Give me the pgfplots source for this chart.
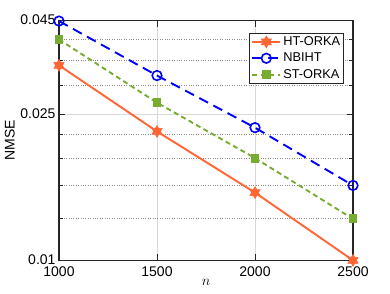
\documentclass[border=0pt]{standalone}
\usepackage{pgfplots}
\pgfplotsset{compat=1.18}
\usepackage{fontspec}
\setmainfont{Liberation Sans}
\definecolor{htorange}{rgb}{1,0.4,0.2}
\definecolor{nbblue}{rgb}{0,0,1}
\definecolor{stgreen}{rgb}{0.466,0.674,0.188}
\pgfdeclareplotmark{hexagram}{%
 \pgfpathmoveto{\pgfqpointpolar{90}{\pgfplotmarksize}}%
 \pgfpathlineto{\pgfqpointpolar{210}{\pgfplotmarksize}}%
 \pgfpathlineto{\pgfqpointpolar{330}{\pgfplotmarksize}}%
 \pgfpathclose
 \pgfpathmoveto{\pgfqpointpolar{270}{\pgfplotmarksize}}%
 \pgfpathlineto{\pgfqpointpolar{30}{\pgfplotmarksize}}%
 \pgfpathlineto{\pgfqpointpolar{150}{\pgfplotmarksize}}%
 \pgfpathclose
 \pgfusepathqfillstroke}
\begin{document}
\begin{tikzpicture}[font=\fontsize{14}{16}\selectfont]
\useasboundingbox (0,0) rectangle (390pt,293pt);
\begin{axis}[
 at={(59pt,32.7pt)}, anchor=south west,
 scale only axis, width=294pt, height=239.6pt,
 ymode=log, xmin=1000, xmax=2500, ymin=0.01, ymax=0.045,
 xtick={1000,1500,2000,2500}, xticklabels={1000,1500,2000,2500},
 ytick={0.01,0.025,0.045}, yticklabels={0.01,0.025,0.045},
 minor ytick={0.013,0.016,0.019,0.022,0.03,0.035,0.04},
 grid=both,
 major grid style={black!15, line width=0.8pt},
 minor grid style={black!45, dotted, line width=0.6pt},
 tick align=inside, major tick length=6pt, minor tick length=4pt,
 axis line style={black!85, line width=1.2pt},
 tick style={black!85, line width=1pt},
 /pgf/number format/assume math mode=true,
 xticklabel style={yshift=-3pt},
 yticklabel style={yshift=1pt},
 xlabel={$n$},
 xlabel style={at={(axis description cs:0.5,0)}, anchor=north, inner sep=0pt, yshift=-19pt},
 ylabel={NMSE},
 ylabel style={at={(axis description cs:0,0.5)}, anchor=south, inner sep=0pt, yshift=44pt},
 clip=false,
 legend style={at={(0.97,0.95)}, anchor=north east, draw=black!85, line width=1pt,
   font=\fontsize{12.8}{14}\selectfont, inner sep=1.5pt, row sep=2pt, cells={anchor=west}},
 legend image code/.code={\draw[mark repeat=2,mark phase=2,#1] plot coordinates {(0pt,0pt) (14pt,0pt) (28pt,0pt)};},
]
\addplot[color=htorange, line width=1.9pt, mark=hexagram, mark size=6pt, mark options={solid, fill=htorange, line width=0.5pt}]
 coordinates {(1000,0.0340)(1500,0.02246)(2000,0.0153)(2500,0.0100)};
\addlegendentry{HT-ORKA}
\addplot[color=nbblue, line width=1.9pt, dash pattern=on 10pt off 6pt, mark=o, mark size=4.8pt, mark options={solid, line width=1.6pt}]
 coordinates {(1000,0.0449)(1500,0.0319)(2000,0.0230)(2500,0.0160)};
\addlegendentry{NBIHT}
\addplot[color=stgreen, line width=1.9pt, dash pattern=on 5pt off 3.5pt, mark=square*, mark size=3.5pt, mark options={solid}]
 coordinates {(1000,0.0400)(1500,0.0269)(2000,0.0190)(2500,0.01297)};
\addlegendentry{ST-ORKA}
\end{axis}
\end{tikzpicture}
\end{document}
